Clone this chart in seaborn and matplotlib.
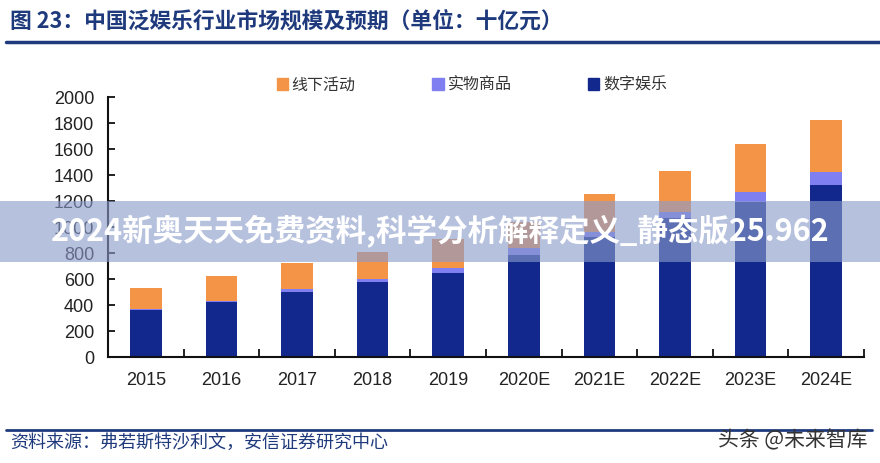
import numpy as np
import pandas as pd
import matplotlib
matplotlib.use("Agg")
import matplotlib.pyplot as plt
from matplotlib.patches import Patch
import seaborn as sns

# data (unit: billion yuan)
years = ["2015", "2016", "2017", "2018", "2019", "2020E", "2021E", "2022E", "2023E", "2024E"]
digital = [360, 425, 497, 575, 650, 785, 925, 1066, 1190, 1320]   # 数字娱乐
physical = [10, 8, 23, 22, 32, 53, 38, 51, 82, 103]               # 实物商品
offline = [160, 187, 200, 213, 223, 202, 292, 316, 366, 399]      # 线下活动

c_digital = "#12288c"
c_physical = "#7f7ff2"
c_offline = "#f39446"
navy = "#1f3a7c"

sns.set_style("white")
plt.rcParams["font.family"] = ["Liberation Sans", "Noto Sans CJK SC", "DejaVu Sans"]
cjk = ["Noto Sans CJK SC", "DejaVu Sans"]

df = pd.DataFrame({"year": years, "digital": digital, "physical": physical, "offline": offline})
df["mid"] = df["digital"] + df["physical"]
df["total"] = df["mid"] + df["offline"]

fig = plt.figure(figsize=(8.8, 4.63), dpi=100)
ax = fig.add_axes([108 / 880, 1 - 357 / 463, (864 - 108) / 880, (357 - 97) / 463])

# stacked look: draw cumulative totals from the top segment down
for col, c in [("total", c_offline), ("mid", c_physical), ("digital", c_digital)]:
    sns.barplot(data=df, x="year", y=col, color=c, width=0.42, saturation=1,
                errorbar=None, linewidth=0, ax=ax)

ax.set_xlim(-0.5, 9.5)
ax.set_ylim(0, 2000)
ax.set_yticks(np.arange(0, 2001, 200))
ax.set_xlabel("")
ax.set_ylabel("")
sns.despine(ax=ax)
for s in ["left", "bottom"]:
    ax.spines[s].set_linewidth(1.5)
    ax.spines[s].set_color("#111111")

ax.set_xticks(np.arange(0.5, 9.6, 1), minor=True)
ax.tick_params(axis="x", which="major", length=0, pad=11, labelsize=13, labelcolor="#222222")
ax.tick_params(axis="x", which="minor", direction="in", length=6, width=1.3, color="#111111")
ax.tick_params(axis="y", direction="in", length=5, width=1.3, color="#111111",
               pad=10, labelsize=13, labelcolor="#222222")
ax.tick_params(left=True, bottom=True, which="both")

# legend on top
handles = [Patch(color=c_offline, label="线下活动"),
           Patch(color=c_physical, label="实物商品"),
           Patch(color=c_digital, label="数字娱乐")]
fig.legend(handles=handles, ncol=3, loc="center", bbox_to_anchor=(472 / 880, 1 - 85 / 463),
           frameon=False, handlelength=0.7, handleheight=0.7, handletextpad=0.25,
           columnspacing=4.8, prop={"family": cjk, "size": 11.5}, labelcolor="#333333")

# header and footer
fig.text(10 / 880, 1 - 22 / 463, "图 23：中国泛娱乐行业市场规模及预期（单位：十亿元）",
         family=cjk, fontsize=15.7, fontweight="bold", color=navy, va="center", ha="left")
fig.add_artist(plt.Line2D([6 / 880, 1], [1 - 42 / 463] * 2, color=navy, lw=2.5))
fig.add_artist(plt.Line2D([6 / 880, 872 / 880], [1 - 430 / 463] * 2, color=navy, lw=2))
fig.text(10 / 880, 1 - 443 / 463, "资料来源：弗若斯特沙利文，安信证券研究中心",
         family=cjk, fontsize=13, color=navy, va="center", ha="left", style="italic")
fig.text(868 / 880, 1 - 440 / 463, "头条 @未来智库", family=cjk, fontsize=15,
         color="#333333", va="center", ha="right")

# semi-transparent banner across the chart
fig.add_artist(plt.Rectangle((0, 1 - 262 / 463), 1, 61 / 463, transform=fig.transFigure,
                             color="#8a9bcb", alpha=0.62, lw=0, zorder=10))
fig.text(0.5, 1 - 232 / 463, "2024新奥天天免费资料,科学分析解释定义_静态版25.962",
         family=cjk, fontsize=22, fontweight="heavy", color="white",
         ha="center", va="center", zorder=11)

fig.savefig("out.png", dpi=100, facecolor="white")
